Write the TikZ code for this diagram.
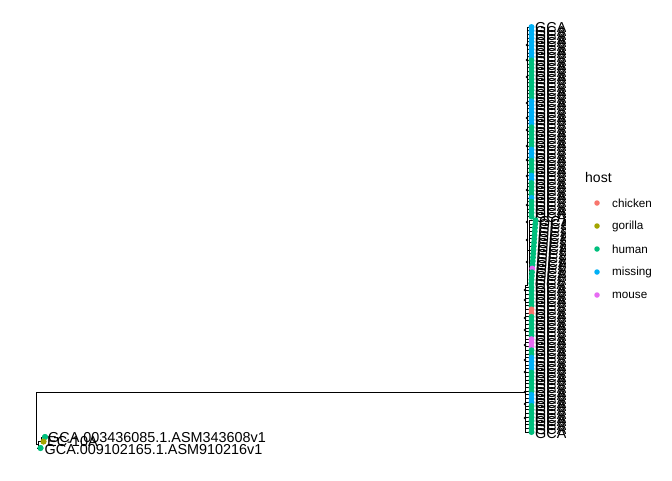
\documentclass[tikz,border=0pt]{standalone}
\usepackage{fontspec}
\setmainfont{Liberation Sans}
\usepackage{xcolor}
\definecolor{host-ch}{HTML}{F8766D}
\definecolor{host-go}{HTML}{A3A500}
\definecolor{host-hu}{HTML}{00BF7D}
\definecolor{host-mi}{HTML}{00B0F6}
\definecolor{host-mo}{HTML}{E76BF3}
\usepackage{tikz}
\usetikzlibrary{positioning}

\begin{document}
\begin{tikzpicture}[x=1pt,y=-1pt,
  branch/.style={line width=0.8pt,black},
  tip/.style={circle,inner sep=0pt,minimum size=6pt,draw=none},
  innode/.style={circle,fill=black,inner sep=0pt,minimum size=2.6pt},
  tiplab/.style={anchor=west,inner sep=0pt,font=\fontsize{14.4}{14}\selectfont},
  legdot/.style={circle,inner sep=0pt,minimum size=5.5pt},
  leglab/.style={anchor=west,inner sep=0pt,font=\fontsize{11.7}{12}\selectfont}]
\useasboundingbox[fill=white] (0,0) rectangle (672,480);
% backbone of the tree
\coordinate (root) at (36,392);
\coordinate (mainclade) at (525,392);
\draw[branch] (root) -- (mainclade);
\draw[branch] (root) -- (36,444.5) -- (38.5,444.5);
\draw[branch] (525,285) -- (525,432) -- (527,432);
\draw[branch] (527,27) -- (527,285) -- (525,285);
\draw[branch] (527,250) -- (529,250);
\draw[branch] (529,220) -- (529,283);
% small outgroup clade
\node[tip,fill=host-hu] (og1) at (45,437) {};
\node[tip,fill=host-go] (og2) at (43.5,441.5) {};
\node[tip,fill=host-hu] (og3) at (40.5,448) {};
\draw[branch] (38.5,441) -- (38.5,448) -- (og3.west);
\draw[branch] (38.5,441) -- (41,441);
\draw[branch] (41,437) -- (41,441.5) -- (og2.west);
\draw[branch] (41,437) -- (og1.west);
\node[tiplab] (og1lab) at (48,438) {GCA.003436085.1.ASM343608v1};
\node[tiplab] (og2lab) at (47,442) {EC-10A};
\node[tiplab] (og3lab) at (44.5,449.5) {GCA.009102165.1.ASM910216v1};
\node[tip,fill=host-hu] at (og1) {};
\node[tip,fill=host-go] at (og2) {};
\node[tip,fill=host-hu] at (og3) {};
% internal nodes
\foreach \ny in {45,60,77,103,118,130,146,160,176,190,205,222,240,262}
  \node[innode] (in\ny) at (527,\ny) {};
\foreach \ny in {290,300,318,330,345,360,372,392,404,418}
  \node[innode] (in\ny) at (525,\ny) {};
% tips of the main clade
\begin{scope}
\clip (0,0) rectangle (565.5,480);
\foreach \c [count=\i from 0] in {mi,mi,mi,mi,mi,mi,mi,mi,mi,
    hu,hu,hu,hu,hu,hu,hu,hu,hu,hu,hu,
    mi,mi,mi,mi,mi,mi,mi,
    hu,hu,hu,hu,hu,hu,
    mi,mi,mi,
    hu,hu,hu,hu,
    mi,mi,
    hu,hu,hu,hu,
    mi,
    hu,hu,hu,hu,hu,hu,hu,hu,hu,hu,hu,hu,hu,hu,hu,hu,hu,hu,
    mo,
    hu,hu,hu,hu,hu,hu,hu,hu,hu,hu,
    ch,ch,
    hu,hu,hu,hu,hu,hu,
    mo,mo,mo,
    hu,hu,
    mi,mi,mi,mi,
    hu,hu,hu,hu,hu,hu,
    mi,mi,mi,
    hu,hu,hu,hu,hu,hu,hu,hu} {
  \pgfmathsetmacro\ty{27+\i*3.716}
  \pgfmathsetmacro\tx{(\i>51 && \i<70) ? 535.5-(\i-52)*0.25 : 531.5}
  \pgfmathsetmacro\px{(\i>51 && \i<70) ? 529 : ((\i<69) ? 527 : 525)}
  \draw[branch] (\px,\ty) -- (\tx,\ty);
  \node[tiplab] (lab\i) at (\tx+3.5,\ty+1) {GCA};
  \node[tip,fill=host-\c] (t\i) at (\tx,\ty) {};
}
\end{scope}
% legend
\node[anchor=west,inner sep=0pt,font=\fontsize{14}{14}\selectfont] (legtitle) at (585,177) {host};
\node[legdot,fill=host-ch] (ld1) at (597,203) {};
\node[legdot,fill=host-go] (ld2) at (597,226) {};
\node[legdot,fill=host-hu] (ld3) at (597,249) {};
\node[legdot,fill=host-mi] (ld4) at (597,272) {};
\node[legdot,fill=host-mo] (ld5) at (597,295) {};
\node[leglab,right=15pt of ld1.center] (ll1) {chicken};
\node[leglab,right=15pt of ld2.center] (ll2) {gorilla};
\node[leglab,right=15pt of ld3.center] (ll3) {human};
\node[leglab,right=15pt of ld4.center] (ll4) {missing};
\node[leglab,right=15pt of ld5.center] (ll5) {mouse};
\end{tikzpicture}
\end{document}
